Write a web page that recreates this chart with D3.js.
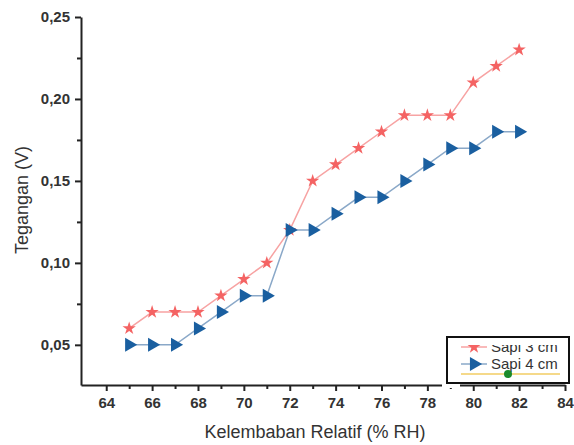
<!DOCTYPE html>
<head>
  <meta charset="utf-8">
  <script src="https://d3js.org/d3.v7.min.js"></script>
  <style>
    body { margin: 0; background: #fff; }
    text { font-family: "Liberation Sans", Arial, sans-serif; fill: #333; }
  </style>
</head>
<body>
  <script>
    var width = 574;
    var height = 445;

    // data
    var kelembaban = [65, 66, 67, 68, 69, 70, 71, 72, 73, 74, 75, 76, 77, 78, 79, 80, 81, 82];
    var sapi3 = [0.06, 0.07, 0.07, 0.07, 0.08, 0.09, 0.10, 0.12, 0.15, 0.16, 0.17, 0.18, 0.19, 0.19, 0.19, 0.21, 0.22, 0.23];
    var sapi4 = [0.05, 0.05, 0.05, 0.06, 0.07, 0.08, 0.08, 0.12, 0.12, 0.13, 0.14, 0.14, 0.15, 0.16, 0.17, 0.17, 0.18, 0.18];
    var xTicks = [64, 66, 68, 70, 72, 74, 76, 78, 80, 82, 84];
    var yTicks = [0.05, 0.10, 0.15, 0.20, 0.25];
    var seriesNames = ["Sapi 3 cm", "Sapi 4 cm"];

    var svg = d3.select("body").append("svg")
        .attr("width", width)
        .attr("height", height);

    var x = d3.scaleLinear().domain([62.9, 84]).range([81, 565]);
    var y = d3.scaleLinear().domain([0.0255, 0.25]).range([385, 17]);

    var fmt = function (d) { return d3.format(".2f")(d).replace(".", ","); };

    // x axis
    var xAxis = svg.append("g").attr("transform", "translate(0,385)");
    xAxis.call(d3.axisBottom(x).tickValues(xTicks).tickSize(6).tickSizeOuter(0).tickFormat(d3.format("d")));
    xAxis.append("g").call(d3.axisBottom(x).tickValues(d3.range(65, 84, 2)).tickSize(4).tickFormat(""));
    xAxis.selectAll("path").attr("stroke", "#222").attr("stroke-width", 2);
    xAxis.selectAll("line").attr("stroke", "#222").attr("stroke-width", 2);
    xAxis.selectAll("text").attr("font-size", 15).attr("dy", "0.9em").attr("fill", "#333").attr("font-weight", "bold");
    xAxis.selectAll(".domain").filter(function (d, i) { return i > 0; }).remove();

    // y axis
    var yAxis = svg.append("g").attr("transform", "translate(81,0)");
    yAxis.call(d3.axisLeft(y).tickValues(yTicks).tickSize(6).tickSizeOuter(0).tickFormat(fmt));
    yAxis.append("g").call(d3.axisLeft(y).tickValues([0.075, 0.125, 0.175, 0.225]).tickSize(4).tickFormat(""));
    yAxis.selectAll("path").attr("stroke", "#222").attr("stroke-width", 2);
    yAxis.selectAll("line").attr("stroke", "#222").attr("stroke-width", 2);
    yAxis.selectAll("text").attr("font-size", 15).attr("fill", "#333").attr("font-weight", "bold").attr("dx", "-2");
    yAxis.selectAll(".domain").filter(function (d, i) { return i > 0; }).remove();

    // axis titles
    svg.append("text")
      .attr("x", 315).attr("y", 438)
      .attr("text-anchor", "middle")
      .attr("font-size", 18)
      .text("Kelembaban Relatif (% RH)");
    svg.append("text")
      .attr("transform", "translate(28,200) rotate(-90)")
      .attr("text-anchor", "middle")
      .attr("font-size", 18)
      .text("Tegangan (V)");

    var line = d3.line()
      .x(function (d, i) { return x(kelembaban[i]); })
      .y(function (d) { return y(d); });

    var star = d3.symbol().type(d3.symbolStar).size(55);
    var tri = d3.symbol().type(d3.symbolTriangle).size(85);

    // Sapi 3 cm
    svg.append("path").datum(sapi3)
      .attr("d", line).attr("fill", "none")
      .attr("stroke", "#f7a3a3").attr("stroke-width", 1.5);
    svg.selectAll(".s3").data(sapi3).enter().append("path")
      .attr("class", "s3")
      .attr("d", star)
      .attr("transform", function (d, i) { return "translate(" + x(kelembaban[i]) + "," + y(d) + ")"; })
      .attr("fill", "#f46363");

    // Sapi 4 cm
    svg.append("path").datum(sapi4)
      .attr("d", line).attr("fill", "none")
      .attr("stroke", "#8aa8c8").attr("stroke-width", 1.5);
    svg.selectAll(".s4").data(sapi4).enter().append("path")
      .attr("class", "s4")
      .attr("d", tri)
      .attr("transform", function (d, i) { return "translate(" + x(kelembaban[i]) + "," + y(d) + ") rotate(90)"; })
      .attr("fill", "#1a5fa0");

    // gap in the bottom axis next to the legend
    svg.append("rect").attr("x", 442).attr("y", 382).attr("width", 18).attr("height", 6).attr("fill", "#fff");

    // legend (top entry clipped, as in the picture)
    var lg = svg.append("g");
    svg.append("clipPath").attr("id", "lgclip")
      .append("rect").attr("x", 447).attr("y", 345).attr("width", 122).attr("height", 38);
    lg.append("rect").attr("x", 447).attr("y", 337).attr("width", 122).attr("height", 46)
      .attr("fill", "#fff").attr("stroke", "#111").attr("stroke-width", 2);
    var inner = lg.append("g").attr("clip-path", "url(#lgclip)");
    var rows = [{ y: 347, c: "#f7a3a3", m: "#f46363", s: star, r: 0 }, { y: 364, c: "#8aa8c8", m: "#1a5fa0", s: tri, r: 90 }];
    rows.forEach(function (r, i) {
      inner.append("line").attr("x1", 461).attr("x2", 487).attr("y1", r.y).attr("y2", r.y)
        .attr("stroke", r.c).attr("stroke-width", 1.5);
      inner.append("path").attr("d", r.s)
        .attr("transform", "translate(474," + r.y + ") rotate(" + r.r + ")")
        .attr("fill", r.m);
      inner.append("text").attr("x", 491).attr("y", r.y + 5)
        .attr("font-size", 15).attr("fill", "#333").text(seriesNames[i]);
    });
    inner.append("line").attr("x1", 461).attr("x2", 560).attr("y1", 374).attr("y2", 374)
      .attr("stroke", "#f5d98a").attr("stroke-width", 2);
    inner.append("circle").attr("cx", 508).attr("cy", 374).attr("r", 4).attr("fill", "#1a8a2a");
  </script>
</body>
